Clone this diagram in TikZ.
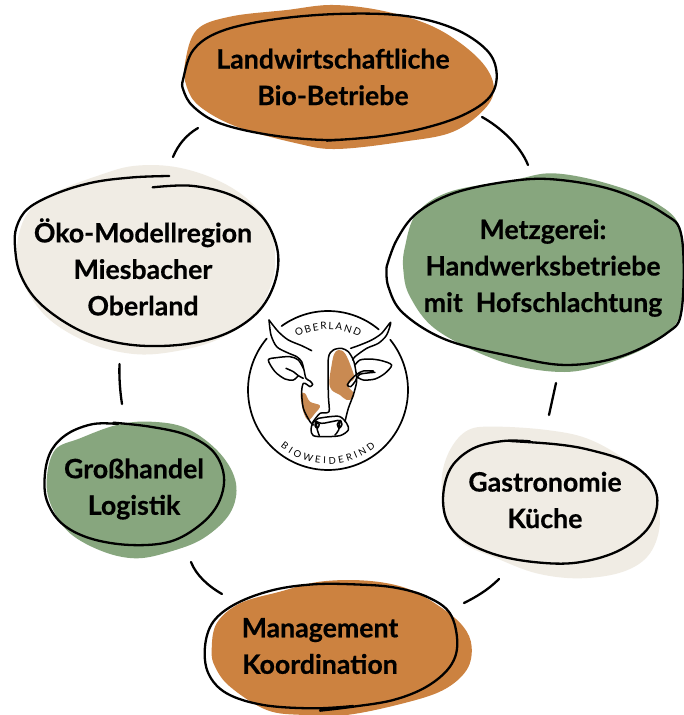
\documentclass[tikz,border=0pt]{standalone}
\usepackage{fontspec}
\setmainfont{Lato}[UprightFont=* Bold,UprightFeatures={FakeBold=0.5}]
\newfontfamily\logofont{Lato}
\usetikzlibrary{decorations.text}
\definecolor{ochre}{HTML}{CC8240}
\definecolor{sage}{HTML}{87A67E}
\definecolor{creamy}{HTML}{F0ECE4}
\definecolor{patch}{HTML}{C98A52}
\tikzset{
  x=1pt,y=-1pt,
  sketch/.style={draw=black,line width=2.3pt,line cap=round,line join=round},
  cow/.style={draw=black,line width=1.5pt,line cap=round,line join=round},
  label/.style={font=\fontsize{26.7}{36.5}\selectfont,align=center,text=black,inner sep=0pt},
}
\begin{document}
\begin{tikzpicture}
\useasboundingbox (0,0) rectangle (683,715);
\fill[white] (0,0) rectangle (683,715);
% blob 1
\begin{scope}[shift={(170,0)},x=0.3333pt,y=-0.3333pt]
\fill[ochre] plot[smooth cycle,tension=0.6] coordinates {(45,190)(80,90)(180,50)(350,30)(490,15)(650,35)(800,85)(920,170)(970,250)(950,320)(850,395)(700,425)(500,447)(380,430)(200,380)(90,320)(50,260)};
\draw[sketch] plot[smooth,tension=0.6] coordinates {(620,410)(470,420)(300,405)(150,370)(70,320)(40,270)(40,235)(70,150)(150,95)(300,60)(500,42)(700,47)(850,85)(950,150)(980,220)(960,290)(880,345)(760,385)(620,410)(470,422)};
\end{scope}
% blob 2
\begin{scope}[shift={(380,170)},x=0.3333pt,y=-0.3333pt]
\fill[sage] plot[smooth cycle,tension=0.6] coordinates {(75,230)(110,130)(210,65)(400,30)(520,10)(680,40)(830,100)(905,190)(905,420)(820,520)(650,590)(520,605)(350,570)(170,480)(90,380)(70,300)};
\draw[sketch] plot[smooth,tension=0.6] coordinates {(20,290)(50,210)(110,130)(220,70)(380,35)(520,28)(700,60)(850,130)(905,200)(905,420)(860,490)(720,560)(560,585)(400,560)(200,510)(70,430)(25,350)(20,290)};
\end{scope}
% blob 3
\begin{scope}[shift={(0,150)},x=0.3333pt,y=-0.3333pt]
\fill[creamy] plot[smooth cycle,tension=0.6] coordinates {(55,260)(90,180)(170,125)(300,75)(400,48)(520,50)(640,85)(740,145)(810,230)(825,320)(815,400)(760,500)(650,570)(520,605)(400,612)(270,580)(150,510)(80,420)(55,340)};
\draw[sketch] plot[smooth,tension=0.6] coordinates {(508,78)(400,82)(280,97)(170,130)(85,175)(50,230)(45,290)(60,370)(110,450)(200,520)(300,565)(420,587)(560,582)(680,550)(770,490)(820,410)(835,320)(810,235)(760,175)(680,130)(570,107)(458,112)};
\end{scope}
% blob 4
\begin{scope}[shift={(30,410)},x=0.3333pt,y=-0.3333pt]
\fill[sage] plot[smooth cycle,tension=0.6] coordinates {(50,210)(75,120)(150,85)(260,45)(360,35)(470,55)(570,130)(618,220)(600,310)(520,385)(420,425)(320,445)(220,425)(120,370)(65,290)};
\draw[sketch] plot[smooth,tension=0.6] coordinates {(265,42)(190,42)(115,70)(65,120)(45,190)(50,270)(95,340)(180,385)(300,405)(420,395)(510,345)(565,280)(582,200)(550,125)(470,75)(360,50)(250,38)};
\end{scope}
% blob 5
\begin{scope}[shift={(430,380)},x=0.3333pt,y=-0.3333pt]
\fill[creamy] plot[smooth cycle,tension=0.6] coordinates {(35,300)(60,210)(115,150)(200,140)(350,150)(470,175)(580,235)(660,310)(690,420)(660,520)(580,575)(450,595)(320,580)(200,535)(100,490)(50,420)};
\draw[sketch] plot[smooth,tension=0.6] coordinates {(300,184)(220,183)(130,205)(65,260)(40,340)(50,420)(100,480)(200,525)(320,547)(440,548)(560,515)(650,450)(682,370)(660,300)(590,245)(480,210)(380,193)(240,183)};
\end{scope}
% blob 6
\begin{scope}[shift={(180,550)},x=0.3333pt,y=-0.3333pt]
\fill[ochre] plot[smooth cycle,tension=0.6] coordinates {(95,300)(110,220)(180,160)(300,125)(420,95)(560,92)(680,115)(780,170)(850,230)(875,290)(860,360)(790,420)(670,460)(500,495)(370,495)(260,480)(150,410)(105,350)};
\draw[sketch] plot[smooth,tension=0.6] coordinates {(420,482)(520,470)(640,450)(740,410)(810,350)(832,280)(810,190)(740,140)(640,112)(520,103)(400,103)(280,120)(170,160)(100,215)(75,290)(85,370)(140,430)(250,465)(400,475)(520,468)};
\end{scope}
% labels
\node[label] (n1) at (333,77) {Landwirtschaftliche\\Bio-Betriebe};
\node[label] (n2) at (543,268) {Metzgerei:\\Handwerksbetriebe\\mit\ \ Hofschlachtung};
\node[label] (n3) at (143,267) {Öko-Modellregion\\Miesbacher\\Oberland};
\node[label] (n4) at (134,489) {Großhandel\\Logistik};
\node[label] (n5) at (545,500) {Gastronomie\\Küche};
\node[label] (n6) at (320,646) {Management\\Koordination};
% connectors
\coordinate (c1a) at (198,128); \coordinate (c1b) at (173,157);
\coordinate (c2a) at (482,117); \coordinate (c2b) at (528,165);
\coordinate (c3a) at (119.5,364); \coordinate (c3b) at (122,404);
\coordinate (c4a) at (191,562); \coordinate (c4b) at (222,594);
\coordinate (c5a) at (556,383); \coordinate (c5b) at (549,415);
\coordinate (c6a) at (499,579); \coordinate (c6b) at (464,603);
\draw[sketch] (c1a) .. controls (186,135) and (178,145) .. (c1b);
\draw[sketch] (c2a) .. controls (500,127) and (520,145) .. (c2b);
\draw[sketch] (c3a) .. controls (119,377) and (120,391) .. (c3b);
\draw[sketch] (c4a) .. controls (196,575) and (208,586) .. (c4b);
\draw[sketch] (c5a) -- (c5b);
\draw[sketch] (c6a) .. controls (488,590) and (476,597) .. (c6b);
% emblem ring
\draw[cow,line width=1.7pt] plot[smooth,domain=-39:220,samples=90] ({328+80*cos(\x)},{390+80*sin(\x)});
\draw[cow,line width=1.7pt] plot[smooth,domain=-126:-50,samples=30] ({328+79*cos(\x)},{390+79*sin(\x)});
\path[decorate,decoration={text along path,text align={center},text={|\logofont\fontsize{10}{11}\selectfont|O{\kern1.6pt}B{\kern1.6pt}E{\kern1.6pt}R{\kern1.6pt}L{\kern1.6pt}A{\kern1.6pt}N{\kern1.6pt}D}}] (297,337) .. controls (316,327) and (340,327) .. (359,337);
\path[decorate,decoration={text along path,text align={center},text={|\logofont\fontsize{9.5}{11}\selectfont|B{\kern3pt}I{\kern3pt}O{\kern3pt}W{\kern3pt}E{\kern3pt}I{\kern3pt}D{\kern3pt}E{\kern3pt}R{\kern3pt}I{\kern3pt}N{\kern3pt}D}}] (279.5,445.9) .. controls (307.4,470.1) and (348.6,470.1) .. (376.5,445.9);
% cow
\begin{scope}[shift={(260,315)},x=0.3333pt,y=-0.3333pt]
\fill[patch] plot[smooth cycle,tension=0.6] coordinates {(235,105)(255,115)(275,160)(283,190)(272,200)(265,215)(282,235)(278,250)(260,255)(240,240)(215,225)(208,200)(215,150)(222,118)};
\fill[patch] plot[smooth cycle,tension=0.6] coordinates {(122,240)(135,235)(150,260)(180,272)(165,295)(145,315)(130,290)};
% left horn and ear
\draw[cow] plot[smooth,tension=0.5] coordinates {(155,107)(125,92)(85,75)(55,50)(27,15)};
\draw[cow] plot[smooth,tension=0.5] coordinates {(27,15)(33,60)(50,95)(80,112)(110,125)(125,140)(132,165)(138,190)(150,198)(158,208)(150,215)(140,208)(130,205)(125,230)(130,280)(150,320)(160,330)};
\draw[cow] plot[smooth,tension=0.5] coordinates {(115,182)(100,195)(75,192)(45,170)(25,135)(50,128)(90,125)(115,135)(130,160)};
\draw[cow] plot[smooth,tension=0.5] coordinates {(78,160)(100,170)(115,182)(130,190)};
% centre line
\draw[cow] plot[smooth,tension=0.45] coordinates {(158,322)(180,295)(207,290)(205,240)(205,130)(220,105)(245,100)(265,110)(280,135)(287,165)(290,200)(280,240)(265,280)(255,320)};
% right horn and ear
\draw[cow] plot[smooth,tension=0.5] coordinates {(272,100)(300,90)(335,75)(365,55)(392,22)(380,60)(355,85)(320,100)(285,125)(278,135)};
\draw[cow] plot[smooth,tension=0.5] coordinates {(285,150)(300,135)(330,132)(365,137)(395,150)(375,175)(345,192)(310,195)(290,185)};
\draw[cow] plot[smooth,tension=0.5] coordinates {(340,168)(310,168)(290,178)(272,195)(262,210)(272,215)(285,200)(300,178)(345,172)};
% muzzle
\draw[cow] plot[smooth,tension=0.5] coordinates {(175,310)(158,325)(153,345)(160,362)(190,365)(240,362)(265,345)(260,325)(240,305)(210,305)(175,310)};
\draw[cow] plot[smooth,tension=0.5] coordinates {(165,318)(185,325)(205,322)(235,316)};
\draw[cow] plot[smooth,tension=0.5] coordinates {(168,322)(178,328)(172,340)(165,332)(168,322)(172,345)(178,362)};
\draw[cow] plot[smooth,tension=0.5] coordinates {(240,316)(232,328)(238,340)(246,328)(240,316)(236,345)(225,360)};
\end{scope}
\end{tikzpicture}
\end{document}
